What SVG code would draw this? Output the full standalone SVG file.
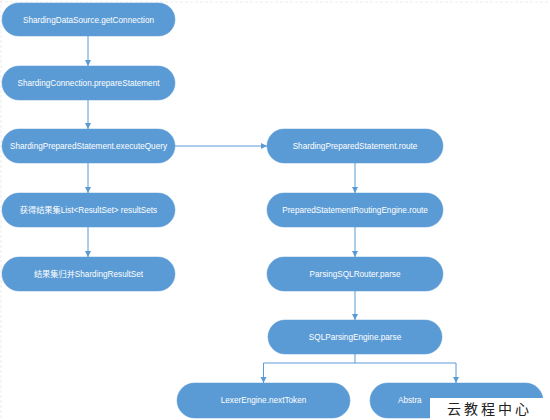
<svg xmlns="http://www.w3.org/2000/svg" width="550" height="420" viewBox="0 0 550 420">
  <style>
    .node rect { fill: #5B9BD5; stroke: #5B9BD5; stroke-width: 0.5; }
    .node text { fill: #ffffff; font-family: "Liberation Sans", "Noto Sans CJK SC", sans-serif; font-size: 8.2px; text-anchor: middle; }
    .conn { fill: none; stroke: #5B9BD5; stroke-width: 1; }
    .frame { stroke: #ececec; stroke-width: 1; stroke-dasharray: 3 2; fill: none; }
    .wm { font-family: "Noto Sans CJK SC", sans-serif; font-size: 14px; letter-spacing: 3px; fill: #222; }
  </style>
  <defs>
    <marker id="arrow" markerWidth="8" markerHeight="8" refX="6" refY="3" orient="auto" markerUnits="userSpaceOnUse">
      <path d="M0,0 L6,3 L0,6 Z" fill="#5B9BD5"/>
    </marker>
  </defs>
  <rect width="550" height="420" fill="#ffffff"/>
  <line class="frame" x1="0" y1="2" x2="550" y2="2"/>
  <line class="frame" x1="1" y1="0" x2="1" y2="420"/>

  <g id="connectors">
    <line class="conn" x1="88" y1="36" x2="88" y2="66" marker-end="url(#arrow)"/>
    <line class="conn" x1="88" y1="100" x2="88" y2="129" marker-end="url(#arrow)"/>
    <line class="conn" x1="88" y1="163" x2="88" y2="193" marker-end="url(#arrow)"/>
    <line class="conn" x1="88" y1="227" x2="88" y2="257" marker-end="url(#arrow)"/>
    <line class="conn" x1="175" y1="146" x2="267" y2="146" marker-end="url(#arrow)"/>
    <line class="conn" x1="355" y1="163" x2="355" y2="193" marker-end="url(#arrow)"/>
    <line class="conn" x1="355" y1="227" x2="355" y2="257" marker-end="url(#arrow)"/>
    <line class="conn" x1="355" y1="291" x2="355" y2="320" marker-end="url(#arrow)"/>
    <polyline class="conn" points="355,354 355,363 263.5,363 263.5,383" marker-end="url(#arrow)"/>
    <polyline class="conn" points="355,363 456,363 456,383" marker-end="url(#arrow)"/>
  </g>

  <g id="n1" class="node"><rect x="2" y="3" width="173" height="33" rx="16.5"/><text x="88.5" y="22.5">ShardingDataSource.getConnection</text></g>
  <g id="n2" class="node"><rect x="2" y="66" width="173" height="34" rx="17"/><text x="88.5" y="86">ShardingConnection.prepareStatement</text></g>
  <g id="n3" class="node"><rect x="2" y="129" width="173" height="34" rx="17"/><text x="88.5" y="149">ShardingPreparedStatement.executeQuery</text></g>
  <g id="n4" class="node"><rect x="2" y="193" width="173" height="34" rx="17"/><text x="88.5" y="213">获得结果集List&lt;ResultSet&gt; resultSets</text></g>
  <g id="n5" class="node"><rect x="2" y="257" width="173" height="34" rx="17"/><text x="88.5" y="277">结果集归并ShardingResultSet</text></g>
  <g id="n6" class="node"><rect x="267" y="129" width="176" height="34" rx="17"/><text x="355" y="149">ShardingPreparedStatement.route</text></g>
  <g id="n7" class="node"><rect x="267" y="193" width="176" height="34" rx="17"/><text x="355" y="213">PreparedStatementRoutingEngine.route</text></g>
  <g id="n8" class="node"><rect x="267" y="257" width="176" height="34" rx="17"/><text x="355" y="277">ParsingSQLRouter.parse</text></g>
  <g id="n9" class="node"><rect x="268" y="320" width="174" height="34" rx="17"/><text x="355" y="340">SQLParsingEngine.parse</text></g>
  <g id="n10" class="node"><rect x="177" y="383" width="173" height="35" rx="17.5"/><text x="263.5" y="403">LexerEngine.nextToken</text></g>
  <g id="n11" class="node"><rect x="370" y="383" width="173" height="35" rx="17.5"/><text x="398" y="403" style="text-anchor:start">Abstra</text></g>

  <g id="watermark">
    <rect x="430" y="398" width="120" height="22" fill="#ffffff"/>
    <text class="wm" x="447" y="414">云教程中心</text>
  </g>
</svg>
